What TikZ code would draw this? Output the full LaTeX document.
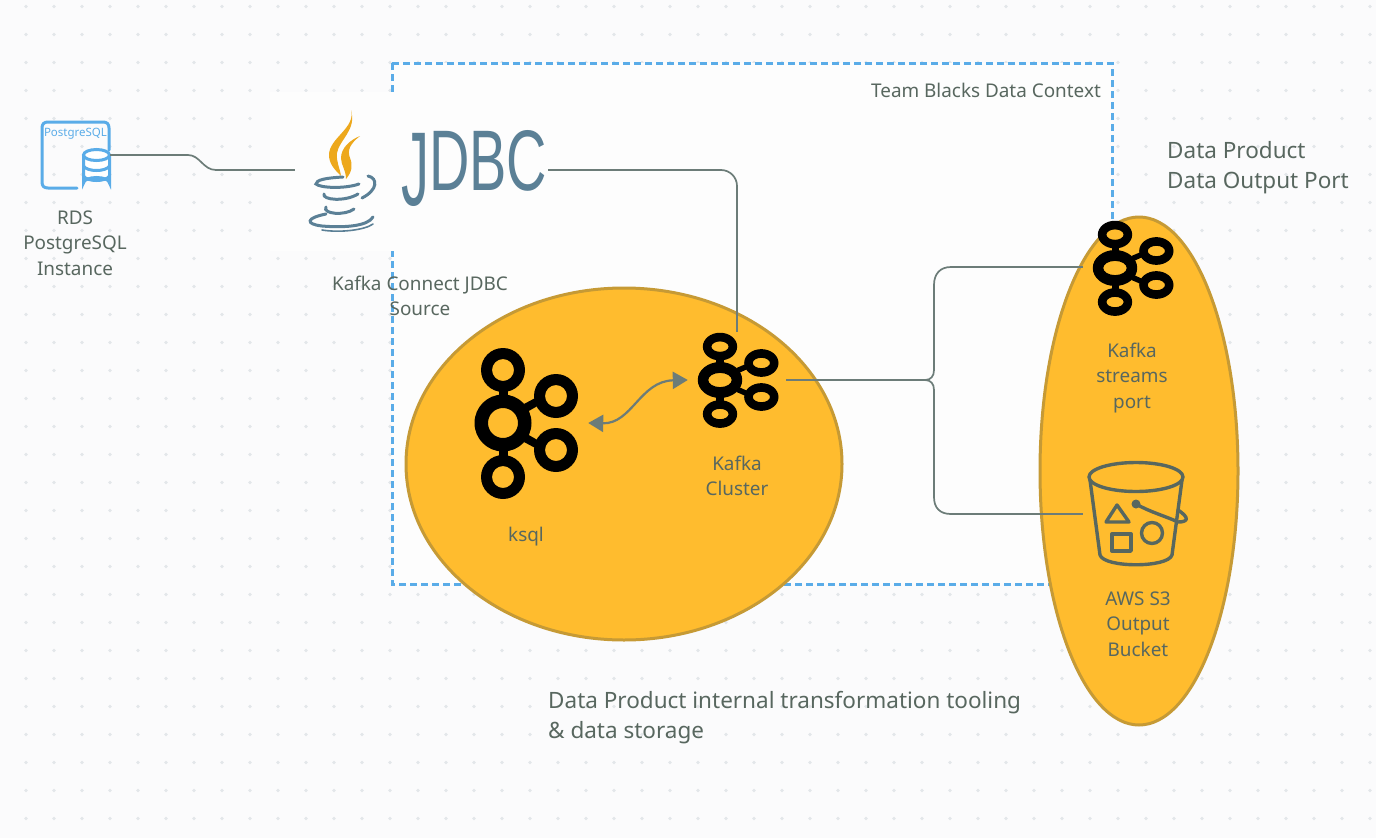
\documentclass[tikz,border=0pt]{standalone}
\usepackage{fontspec}
\usepackage{tikz}
\usetikzlibrary{arrows.meta,positioning}
\setmainfont{Noto Sans}
\newfontfamily\logofont{Liberation Sans}
\definecolor{paper}{HTML}{FBFBFC}
\definecolor{boxpaper}{HTML}{FDFDFD}
\definecolor{griddot}{HTML}{E3E7EA}
\definecolor{inkgray}{HTML}{58675F}
\definecolor{linegray}{HTML}{6C7C78}
\definecolor{boxblue}{HTML}{5AACE8}
\definecolor{amber}{HTML}{FFBC2E}
\definecolor{amberline}{HTML}{C69A35}
\definecolor{javablue}{HTML}{5B8096}
\definecolor{steam}{HTML}{EDA81C}
\newcommand{\kafkaicon}[4]{%
  \begin{scope}[shift={(#1)},xscale=#2,yscale=#3]
    \fill[black,even odd rule] (0,0) circle (28.5) [x radius=15,y radius=15*#4] circle;
    \fill[black,even odd rule] (0,-53) circle (22) [x radius=11,y radius=11*#4] circle;
    \fill[black,even odd rule] (0,54) circle (22) [x radius=11,y radius=11*#4] circle;
    \fill[black,even odd rule] (53,-27) circle (22) [x radius=11,y radius=11*#4] circle;
    \fill[black,even odd rule] (53,27) circle (22) [x radius=11,y radius=11*#4] circle;
    \fill[black] (-4.5,-36) rectangle (4.5,-24);
    \fill[black] (-4.5,24) rectangle (4.5,36);
    \fill[black] (21,-19) -- (36,-27) -- (38,-19) -- (24,-11) -- cycle;
    \fill[black] (21,19) -- (36,27) -- (38,19) -- (24,11) -- cycle;
  \end{scope}}
\tikzset{
  blob/.style={draw=amberline,fill=amber,line width=3pt},
  iconbox/.style={inner sep=0pt,minimum height=#1},
  iconbox/.default=96pt,
  label/.style={text=inkgray,align=center,inner sep=0pt,font=\fontsize{18.9}{25.5}\selectfont},
  caption/.style={text=inkgray,align=left,inner sep=0pt,anchor=west,font=\fontsize{22.5}{30}\selectfont},
  link/.style={draw=linegray,line width=1.7pt},
  cupline/.style={draw=javablue,line width=3pt,line cap=round},
  bucket/.style={draw=inkgray,line width=3.4pt,line join=round,line cap=round},
  pgline/.style={draw=boxblue,line width=3pt,line cap=round}
}

\begin{document}
\begin{tikzpicture}[x=1pt,y=-1pt]
    \useasboundingbox (0,0) rectangle (1376,838);
    \fill[paper] (0,0) rectangle (1376,838);
    \foreach \dx in {0,...,48} \foreach \dy in {0,...,29}
      \fill[griddot] ({26+28*\dx},{6.5+28*\dy}) circle (1.9);
    % team context box and the blank patch behind the logo
    \draw[boxblue,line width=3pt,dash pattern=on 7pt off 4pt,fill=boxpaper] (392,63) rectangle (1112,584);
    \fill[boxpaper] (270,92) rectangle (575,251);
    \draw[blob] (624,464) ellipse (218 and 176);
    \draw[blob] (1139,471) ellipse (99 and 254);

    \node (pg) [iconbox=68pt,minimum width=69pt] at (75.5,155) {};
    \node (jdbcbox) [iconbox=40pt,minimum width=253pt] at (421.5,170) {};
    \node (ksql) [iconbox=120pt,minimum width=130pt] at (523,423) {};
    \node (cluster) [iconbox,minimum width=98pt] at (737,380) {};
    \node (streams) [iconbox,minimum width=100pt] at (1133,267) {};
    \node (s3) [iconbox,minimum width=106pt] at (1136,514) {};
    \coordinate (split) at (925,380);

    % postgres icon
    \draw[pgline] (77,188) -- (48,188) .. controls (44,188) and (42,186) .. (42,182) -- (42,128)
      .. controls (42,124) and (44,122) .. (48,122) -- (103,122) .. controls (107,122) and (109,124) .. (109,128) -- (109,150);
    \node (pgname) [text=boxblue,inner sep=0pt,font=\fontsize{11.5}{12}\selectfont] at (75.5,134) {PostgreSQL};
    \draw[pgline,fill=white] (83.5,155) -- (83.5,183) arc (180:0:13 and -5.5) -- (109.5,155);
    \draw[pgline,fill=white] (96.5,155) ellipse (13 and 5.5);
    \draw[pgline] (83.5,166) .. controls (87,172) and (106,172) .. (109.5,166);
    \draw[pgline] (83.5,176) .. controls (87,182) and (106,182) .. (109.5,176);

    % java cup and JDBC lettering
    \fill[steam] (351,110) .. controls (356,128) and (329,138) .. (329,155) .. controls (329,164) and (335,170) .. (341,176)
      .. controls (340,168) and (336,162) .. (337,153) .. controls (339,140) and (357,130) .. (351,110);
    \fill[steam] (360,136) .. controls (350,140) and (341,148) .. (341,158) .. controls (341,165) and (346,170) .. (346,179)
      .. controls (352,172) and (353,165) .. (350,158) .. controls (347,150) and (350,144) .. (360,136);
    \draw[cupline] (343,177) .. controls (325,178) and (316,180) .. (316,184) .. controls (320,188) and (345,189) .. (359,184);
    \draw[cupline] (368,176) .. controls (378,178) and (378,190) .. (362,198);
    \draw[cupline] (324,194) .. controls (322,200) and (345,202) .. (358,194);
    \draw[cupline] (326,207) .. controls (322,214) and (345,216) .. (354,209);
    \draw[cupline] (326,214) .. controls (306,218) and (305,224) .. (322,226) .. controls (345,228) and (368,226) .. (373,217);
    \draw[cupline,line width=1.6pt] (322,230) .. controls (340,233) and (365,230) .. (373,224);
    \node (jdbcname) [anchor=base west,inner sep=0pt,text=javablue,font=\logofont\fontsize{86}{86}\selectfont] at (401,190)
      {\raisebox{-15pt}{\scalebox{.65}[1.22]{J}}\scalebox{.65}[1]{DBC}};

    % kafka icons
    \kafkaicon{503,423}{1}{1}{1}
    \kafkaicon{720,380}{.78}{.63}{.75}
    \kafkaicon{1115,268}{.78}{.63}{.75}

    % bucket icon
    \draw[bucket] (1136,477) ellipse (47 and 14.5);
    \draw[bucket] (1090,480) -- (1100,555) .. controls (1104,568) and (1168,568) .. (1172,555) -- (1182,480);
    \draw[bucket] (1117,505) -- (1106,522) -- (1129,522) -- cycle;
    \draw[bucket] (1112,534) rectangle (1131,551);
    \draw[bucket] (1152,533) circle (10.5);
    \fill[inkgray] (1136,504) circle (4.5);
    \draw[bucket] (1136,504) .. controls (1150,512) and (1165,516) .. (1178,522) .. controls (1188,522) and (1190,518) .. (1178,510);

    % connectors
    \draw[link] (pg.east) -- (188,155) .. controls (200,155) and (203,170) .. (216,170) -- (jdbcbox.west);
    \draw[link,rounded corners=16pt] (jdbcbox.east) -| (cluster.north);
    \draw[link] (cluster.east) -- (split) .. controls (931,380) and (934,376) .. (934,370) -- (934,285)
      .. controls (934,274) and (940,267) .. (951,267) -- (streams.west);
    \draw[link] (split) .. controls (931,380) and (934,384) .. (934,390) -- (934,497)
      .. controls (934,508) and (940,514) .. (951,514) -- (s3.west);
    \draw[link,line width=2.2pt,{Triangle[length=15pt,width=17pt]}-{Triangle[length=15pt,width=17pt]}] (ksql.east) .. controls (632,424) and (640,381) .. (cluster.west);

    % labels
    \node (rdstext) [label] at (75,243) {RDS\\PostgreSQL\\Instance};
    \node (jdbctext) [label] at (420,296) {Kafka Connect JDBC\\Source};
    \node (ksqltext) [label] at (526,537) {ksql};
    \node (clustertext) [label] at (737,476) {Kafka\\Cluster};
    \node (streamstext) [label] at (1132,378) {Kafka\\streams\\port};
    \node (s3text) [label] at (1138,624) {AWS S3\\Output\\Bucket};
    \node (teamtext) [label,anchor=east] at (1101,90) {Team Blacks Data Context};
    \node (porttext) [caption] at (1167,168) {Data Product\\Data Output Port};
    \node (tooltext) [caption] at (548,718) {Data Product internal transformation tooling\\\& data storage};
\end{tikzpicture}
\end{document}
